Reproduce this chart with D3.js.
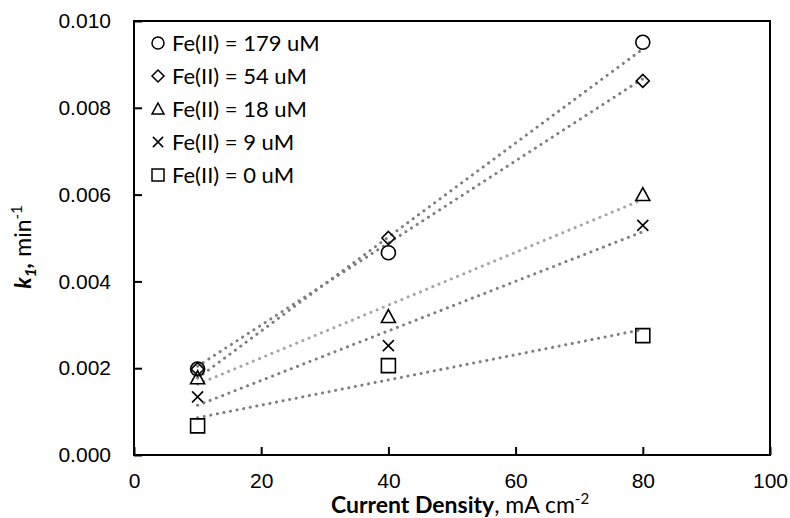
<!DOCTYPE html>
<html>
<head>
<meta charset="utf-8">
<script src="https://cdn.jsdelivr.net/npm/d3@7"></script>
<style>
  body { margin: 0; background: #fff; }
  svg { display: block; font-family: Lato, "Open Sans", sans-serif; }
</style>
</head>
<body>
<svg id="chart" width="790" height="518"></svg>
<script>

// data
const currentDensity = [10, 40, 80];
const seriesLabels = ["Fe(II) = 179 uM", "Fe(II) = 54 uM", "Fe(II) = 18 uM", "Fe(II) = 9 uM", "Fe(II) = 0 uM"];
const seriesShapes = ["circle", "diamond", "triangle", "cross", "square"];
const k179 = [0.00198, 0.00466, 0.00951];
const k54  = [0.00198, 0.00500, 0.00862];
const k18  = [0.00178, 0.00319, 0.00600];
const k9   = [0.00134, 0.00252, 0.00529];
const k0   = [0.00067, 0.00206, 0.00275];
const xTicks = [0, 20, 40, 60, 80, 100];
const yTicks = [0, 0.002, 0.004, 0.006, 0.008, 0.010];

const seriesValues = [k179, k54, k18, k9, k0];
const trendColors = ["#7f7f7f", "#7f7f7f", "#a6a6a6", "#7f7f7f", "#7f7f7f"];

const margin = {top: 21, right: 20, bottom: 63, left: 134};
const width = 790 - margin.left - margin.right;
const height = 518 - margin.top - margin.bottom;

const svg = d3.select("#chart");
const g = svg.append("g")
    .attr("transform", `translate(${margin.left}, ${margin.top})`);

const x = d3.scaleLinear().domain([0, 100]).range([0, width]);
const y = d3.scaleLinear().domain([0, 0.010]).range([height, 0]);

//
// AXES
//

const yAxis = g.append("g")
    .call(d3.axisLeft(y).tickValues(yTicks).tickFormat(d3.format(".3f"))
        .tickSizeInner(-8).tickSizeOuter(0).tickPadding(23));
yAxis.select(".domain").remove();
yAxis.selectAll("line").attr("stroke", "#000").attr("stroke-width", 2);
yAxis.selectAll("text").style("font-size", "21px").attr("fill", "#000");

const xAxis = g.append("g")
    .attr("transform", `translate(0, ${height})`)
    .call(d3.axisBottom(x).tickValues(xTicks).tickFormat(d3.format("d"))
        .tickSizeInner(-8).tickSizeOuter(0).tickPadding(18));
xAxis.select(".domain").remove();
xAxis.selectAll("line").attr("stroke", "#000").attr("stroke-width", 2);
xAxis.selectAll("text").style("font-size", "21px").attr("fill", "#000");

g.append("rect")
    .attr("width", width)
    .attr("height", height)
    .attr("fill", "none")
    .attr("stroke", "#000")
    .attr("stroke-width", 2);

//
// TRENDLINES (least squares, over the measured range)
//

const fit = (xs, ys) => {
    const mx = d3.mean(xs), my = d3.mean(ys);
    const sxy = d3.sum(xs, (v, i) => (v - mx) * (ys[i] - my));
    const sxx = d3.sum(xs, v => (v - mx) * (v - mx));
    const slope = sxy / sxx;
    return v => my + slope * (v - mx);
};

const line = d3.line().x(d => x(d[0])).y(d => y(d[1]));
const xExtent = d3.extent(currentDensity);

seriesValues.forEach((vals, i) => {
    const f = fit(currentDensity, vals);
    g.append("path")
        .datum(xExtent.map(v => [v, f(v)]))
        .attr("fill", "none")
        .attr("stroke", trendColors[i])
        .attr("stroke-width", 3)
        .attr("stroke-linecap", "round")
        .attr("stroke-dasharray", "0.1 6.6")
        .attr("d", line);
});

//
// MARKERS
//

const shapePath = (shape, s) => {
    const h = s / 2;
    switch (shape) {
        case "circle":
            return `M${h},0A${h},${h},0,1,1,${-h},0A${h},${h},0,1,1,${h},0Z`;
        case "diamond":
            return `M0,${-h}L${h},0L0,${h}L${-h},0Z`;
        case "triangle":
            return `M0,${-h}L${h},${h * 0.85}L${-h},${h * 0.85}Z`;
        case "cross":
            return `M${-h * 0.85},${-h * 0.85}L${h * 0.85},${h * 0.85}M${h * 0.85},${-h * 0.85}L${-h * 0.85},${h * 0.85}`;
        default:
            return `M${-h},${-h}H${h}V${h}H${-h}Z`;
    }
};

const markerSize = {circle: 14, diamond: 13, triangle: 14, cross: 13, square: 14};

seriesValues.forEach((vals, i) => {
    const shape = seriesShapes[i];
    g.append("g")
        .selectAll("path")
        .data(currentDensity.map((c, j) => ({x: c, y: vals[j]})))
        .enter().append("path")
            .attr("transform", d => `translate(${x(d.x)}, ${y(d.y)})`)
            .attr("d", shapePath(shape, markerSize[shape]))
            .attr("fill", "none")
            .attr("stroke", "#000")
            .attr("stroke-width", 1.6);
});

//
// LEGEND
//

const legend = g.append("g")
    .attr("transform", "translate(24, 22)");

seriesLabels.forEach((label, i) => {
    const row = legend.append("g")
        .attr("transform", `translate(0, ${i * 33})`);
    row.append("path")
        .attr("d", shapePath(seriesShapes[i], 12))
        .attr("fill", "none")
        .attr("stroke", "#000")
        .attr("stroke-width", 1.5);
    row.append("text")
        .attr("x", 14)
        .attr("dy", "0.36em")
        .style("font-size", "22px")
        .text(label);
});

//
// AXIS TITLES
//

const xTitle = svg.append("text")
    .attr("x", 460)
    .attr("y", 513)
    .attr("text-anchor", "middle")
    .style("font-size", "23px");
xTitle.append("tspan").attr("font-weight", "bold").text("Current Density");
xTitle.append("tspan").text(", mA cm");
xTitle.append("tspan").attr("dy", -9).style("font-size", "15px").text("-2");

const yTitle = svg.append("text")
    .attr("transform", "translate(31, 247) rotate(-90)")
    .attr("text-anchor", "middle")
    .style("font-size", "23px");
yTitle.append("tspan").attr("font-weight", "bold").attr("font-style", "italic").text("k");
yTitle.append("tspan").attr("font-weight", "bold").attr("font-style", "italic")
    .attr("dy", 5).style("font-size", "16px").text("1");
yTitle.append("tspan").attr("font-weight", "bold").attr("font-style", "italic")
    .attr("dy", -5).text(",");
yTitle.append("tspan").text(" min");
yTitle.append("tspan").attr("dy", -9).style("font-size", "15px").text("-1");

</script>
</body>
</html>
